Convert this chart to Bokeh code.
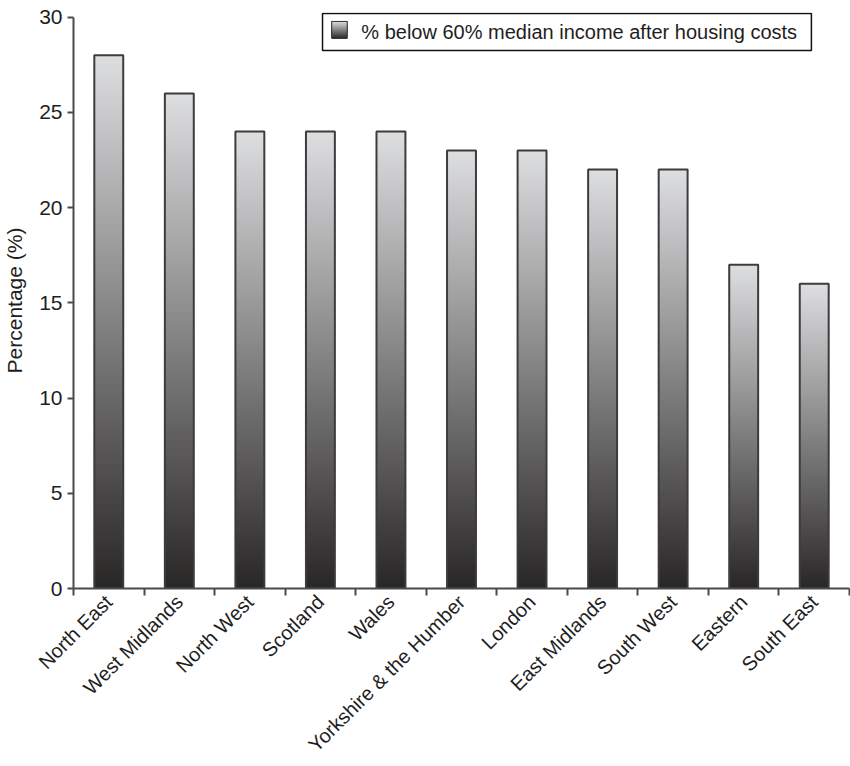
import numpy as np
from bokeh.plotting import figure
from bokeh.models import Range1d, FixedTicker, BoxAnnotation, Label, ColumnDataSource
from bokeh.embed import file_html
from bokeh.resources import INLINE

# Share of people below 60% of median income (after housing costs), by region
regions = ["North East", "West Midlands", "North West", "Scotland", "Wales",
           "Yorkshire & the Humber", "London", "East Midlands", "South West",
           "Eastern", "South East"]
percent = [28, 26, 24, 24, 24, 23, 23, 22, 22, 17, 16]
y_ticks = [0, 5, 10, 15, 20, 25, 30]
legend_text = "% below 60% median income after housing costs"

FONT = "Liberation Sans"
TEXT = "#1e1e1e"
LIGHT = np.array([0xdd, 0xde, 0xe0])
DARK = np.array([0x29, 0x26, 0x26])
N_SLICES = 120
BAR_W = 0.41

def shade(t):
    c = DARK + (LIGHT - DARK) * t
    return "#%02x%02x%02x" % tuple(int(round(v)) for v in c)

centers = np.arange(len(regions)) + 0.5

p = figure(width=850, height=766, output_backend="svg", toolbar_location=None,
           x_range=Range1d(0, len(regions)), y_range=Range1d(0, 30.25),
           min_border_left=73, min_border_right=1, min_border_top=12,
           min_border_bottom=178)
p.outline_line_color = None
p.grid.visible = False
p.background_fill_color = "white"
p.border_fill_color = "white"

# vertical gradient: each bar is painted bottom-up with overlapping slices
# (slice k runs from k/N of the value up to the full value)
xs, bots, tops, cols = [], [], [], []
for x, v in zip(centers, percent):
    for k in range(N_SLICES):
        xs.append(x)
        bots.append(v * k / N_SLICES)
        tops.append(v)
        cols.append(shade((k + 0.5) / N_SLICES))
src = ColumnDataSource(dict(x=xs, bottom=bots, top=tops, color=cols))
p.vbar(x="x", bottom="bottom", top="top", width=BAR_W, source=src,
       fill_color="color", line_color=None)

# bar outlines
p.vbar(x=centers, top=percent, bottom=0, width=BAR_W, fill_alpha=0,
       line_color="#3c3c3c", line_width=2)

AX = "#4a4a4a"
# x axis: tick marks between categories, names at category centres
xa = p.xaxis[0]
xa.ticker = FixedTicker(ticks=list(centers), minor_ticks=list(range(len(regions) + 1)))
xa.major_label_overrides = {float(c): r for c, r in zip(centers, regions)}
xa.major_tick_line_color = None
xa.major_tick_out = 7
xa.major_tick_in = 0
xa.minor_tick_line_color = AX
xa.minor_tick_line_width = 2
xa.minor_tick_out = 7
xa.minor_tick_in = 0
xa.major_label_orientation = np.pi / 4
xa.major_label_standoff = 3
xa.axis_line_color = AX
xa.axis_line_width = 2
xa.major_label_text_font = FONT
xa.major_label_text_font_size = "20px"
xa.major_label_text_color = TEXT

ya = p.yaxis[0]
ya.ticker = FixedTicker(ticks=y_ticks, minor_ticks=[])
ya.bounds = (0, 30)
ya.major_tick_line_color = AX
ya.major_tick_line_width = 2
ya.major_tick_out = 6
ya.major_tick_in = 0
ya.major_label_standoff = 5
ya.axis_line_color = AX
ya.axis_line_width = 2
ya.axis_label = "Percentage (%)"
ya.axis_label_standoff = 10
ya.major_label_text_font = FONT
ya.major_label_text_font_size = "21px"
ya.major_label_text_color = TEXT
ya.axis_label_text_font = FONT
ya.axis_label_text_font_size = "21px"
ya.axis_label_text_font_style = "normal"
ya.axis_label_text_color = TEXT

# legend box with a gradient swatch
p.add_layout(BoxAnnotation(left=3.53, right=10.46, top=30.2, bottom=28.26,
                           fill_color="white", fill_alpha=1,
                           line_color="#111111", line_width=1.5, line_alpha=1))
sw_l, sw_r, sw_t, sw_b = 3.66, 3.88, 29.78, 28.89
n_sw = 16
for k in range(n_sw):
    b = sw_b + (sw_t - sw_b) * k / n_sw
    p.add_layout(BoxAnnotation(left=sw_l, right=sw_r, bottom=b, top=sw_t,
                               fill_color=shade((k + 0.5) / n_sw), fill_alpha=1,
                               line_color=None))
p.add_layout(BoxAnnotation(left=sw_l, right=sw_r, bottom=sw_b, top=sw_t,
                           fill_alpha=0, line_color="#333333", line_width=1,
                           line_alpha=1))
p.add_layout(Label(x=4.08, y=29.23, text=legend_text, text_font=FONT,
                   text_font_size="20px", text_baseline="middle",
                   text_align="left", text_color=TEXT))

open("out.html", "w").write(file_html(p, INLINE))
